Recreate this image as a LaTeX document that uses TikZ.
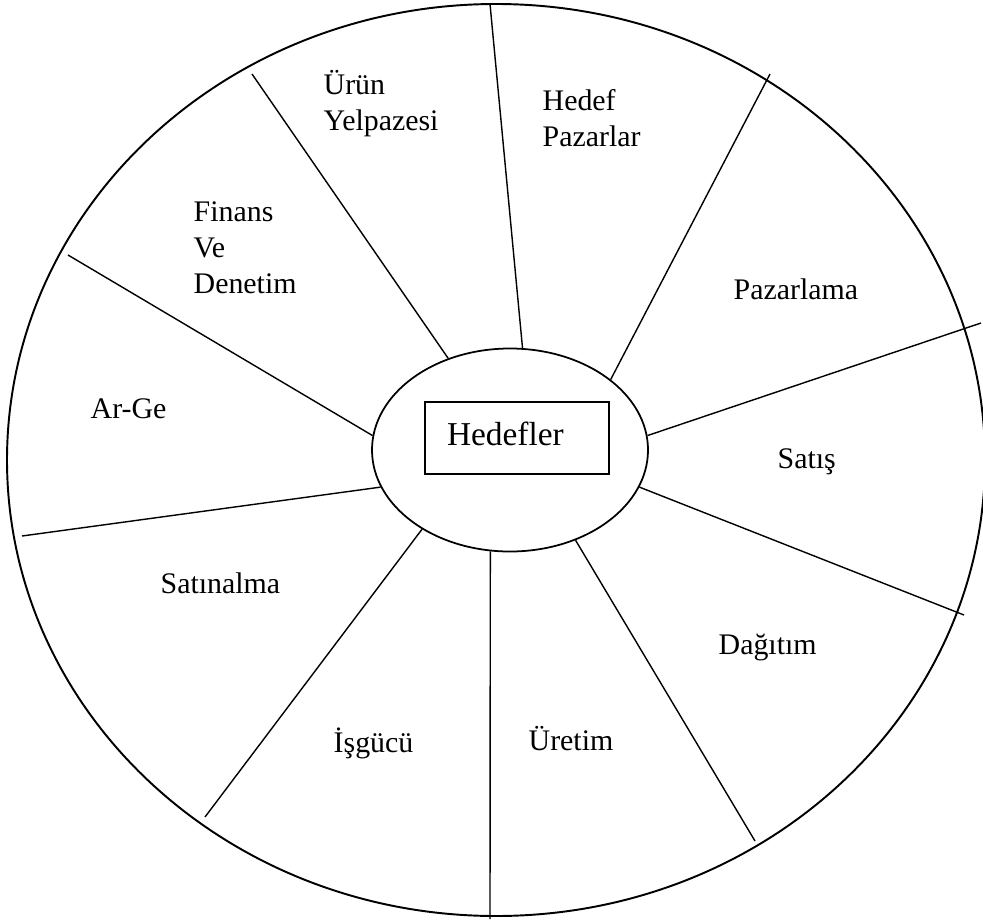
\documentclass[tikz,border=0pt]{standalone}
\usepackage{fontspec}
\setmainfont{Liberation Serif}
\usetikzlibrary{shapes.geometric}

\begin{document}
\begin{tikzpicture}[x=0.2mm, y=-0.2mm, line width=0.8pt,
	etiket/.style={inner sep=0pt, font=\fontsize{17}{20.5}\selectfont, align=left}]
			\useasboundingbox (0,0) rectangle (983,919);
			%dis cember
			\draw[line width=1.1pt] (496,460) ellipse [x radius=489, y radius=456];
			\node[draw, ellipse, line width=1pt, inner sep=0pt, minimum width=55.2mm, minimum height=40.6mm] (hub) at (510,450) {};
			\node[draw, line width=1pt, inner xsep=4.4mm, text width=28mm, minimum height=14.4mm, text depth=1.8mm, align=left, font=\fontsize{19}{22}\selectfont] (hedefler) at (517,438) {Hedefler};
			%uclar
			\coordinate (o1) at (252,74);
			\coordinate (o2) at (490,4);
			\coordinate (o3) at (770,74);
			\coordinate (o4) at (981,323);
			\coordinate (o5) at (964,615);
			\coordinate (o6) at (755,841);
			\coordinate (o7) at (490,919);
			\coordinate (o8) at (205,817);
			\coordinate (o9) at (22,536);
			\coordinate (o10) at (68,255);
			\draw (hub.124) -- (o1);
			\draw (hub.83) -- (o2);
			\draw (hub.35) -- (o3);
			\draw (hub.6) -- (o4);
			\draw (hub.-16) -- (o5);
			\draw (hub.-54) -- (o6);
			\draw (hub.-101) -- (o7);
			\draw (hub.-138) -- (o8);
			\draw (hub.196) -- (o9);
			\draw (hub.174) -- (o10);
			%dilimler
			\node[etiket, anchor=west] (urun) at (323,104) {Ürün\\Yelpazesi};
			\node[etiket, anchor=west] (pazar) at (542,118) {Hedef\\Pazarlar};
			\node[etiket, anchor=west] (finans) at (193,248) {Finans\\Ve\\Denetim};
			\node[etiket, anchor=base west] (pazarlama) at (733,299) {Pazarlama};
			\node[etiket, anchor=base west] (satis) at (777,468) {Satış};
			\node[etiket, anchor=base west] (arge) at (90,418) {Ar-Ge};
			\node[etiket, anchor=base west] (satinalma) at (160,593) {Satınalma};
			\node[etiket, anchor=base west] (dagitim) at (718,654) {Dağıtım};
			\node[etiket, anchor=base west] (isgucu) at (333,752) {İşgücü};
			\node[etiket, anchor=base west] (uretim) at (528,750) {Üretim};
		\end{tikzpicture}
\end{document}
